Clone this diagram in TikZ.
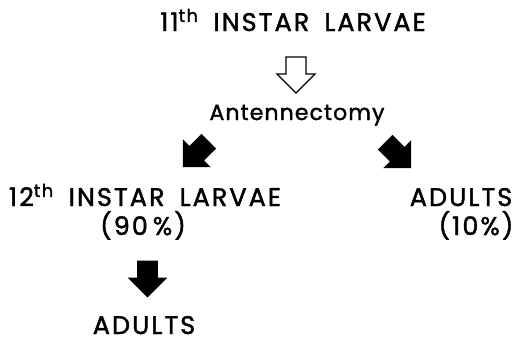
\documentclass[tikz,border=0pt]{standalone}
\usepackage{fontspec}
\setmainfont{Poppins}[FakeBold=1.6, LetterSpace=5]
\usepackage{tikz}

\tikzset{
  stage/.style={anchor=base, inner sep=0pt,
    font=\fontsize{25.5}{28}\selectfont\addfontfeature{LetterSpace=8}},
  step label/.style={anchor=base, inner sep=0pt, font=\fontsize{22}{24}\selectfont},
  pics/bigarrow/.style={code={
    \path[pic actions] (-17,-10) -- (0,-10) -- (0,-19) -- (19,0)
      -- (0,19) -- (0,10) -- (-17,10) -- cycle;}},
  solidarrow/.style={fill=black, draw=black, line width=0.6pt, line join=miter},
  openarrow/.style={fill=white, draw=black, line width=1.3pt, line join=miter}
}
\newcommand{\wgap}{\hspace{15pt}}

\begin{document}
\begin{tikzpicture}[x=1pt, y=-1pt]
  \useasboundingbox (0,0) rectangle (515,341);
  \node[stage] (L11) at (293,31) {11\textsuperscript{th}\wgap INSTAR\wgap LARVAE};
  \node[step label] (ant) at (297,120) {Antennectomy};
  \node[stage] (L12) at (145,206) {12\textsuperscript{th}\wgap INSTAR\wgap LARVAE};
  \node[stage] (ad1) at (461,206) {ADULTS};
  \node[stage] (p90) at (143,235) {(90\hspace{5pt}\%)};
  \node[stage] (p10) at (476,235) {(10\%)};
  \node[stage] (ad2) at (144,334) {ADULTS};
  % block arrows
  \pic[openarrow, rotate=-90] at (296,74) {bigarrow};
  \pic[solidarrow, rotate=225] at (196.6,153.4) {bigarrow};
  \pic[solidarrow, rotate=-45] at (397.4,154.4) {bigarrow};
  \pic[solidarrow, rotate=-90] at (147.5,278) {bigarrow};
\end{tikzpicture}
\end{document}
